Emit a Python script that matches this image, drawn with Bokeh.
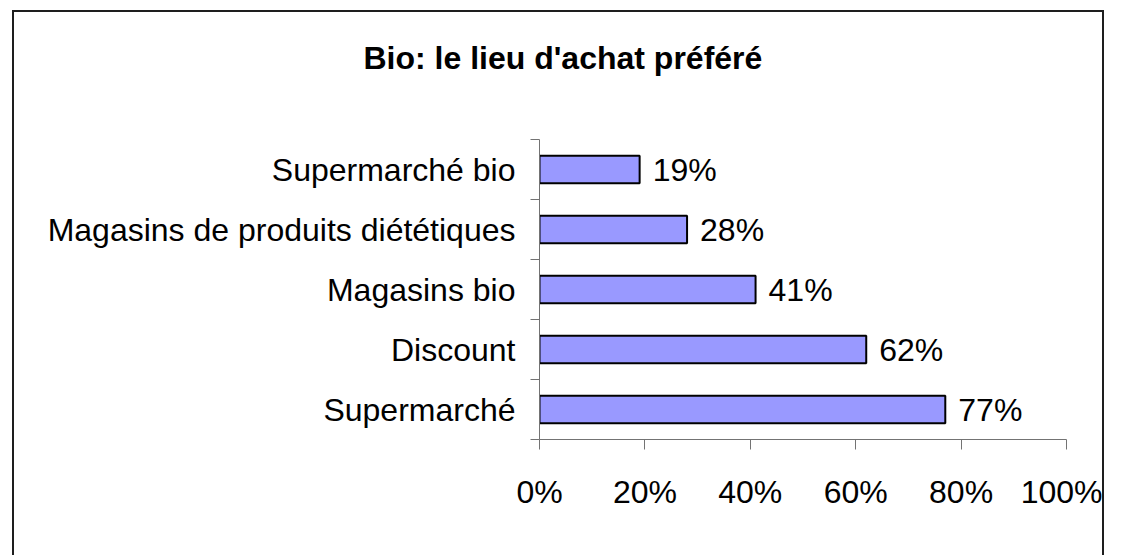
from bokeh.plotting import figure
from bokeh.models import Range1d, FixedTicker, ColumnDataSource, Title
from bokeh.core.properties import value
from bokeh.embed import file_html
from bokeh.resources import INLINE

# ---- data (top to bottom as shown) ----
categories = ["Supermarché bio", "Magasins de produits diététiques", "Magasins bio", "Discount", "Supermarché"]
values = [19, 28, 41, 62, 77]
x_ticks = [0, 20, 40, 60, 80, 100]
x_tick_labels = ["0%", "20%", "40%", "60%", "80%", "100%"]
title_text = "Bio: le lieu d'achat préféré"

FONT = "Liberation Sans"
FS = "32px"

n = len(categories)
ypos = [n - i - 0.5 for i in range(n)]
labels = [f"{v}%" for v in values]
src = ColumnDataSource(dict(y=ypos, v=values, lab=labels))

W, H = 1092, 545
ML, MR, MT, MB = 525, 40, 127, 118
p = figure(width=W, height=H, output_backend="svg", toolbar_location=None, title=None,
           x_range=Range1d(0, 100), y_range=Range1d(0, n),
           min_border_left=ML, min_border_right=MR, min_border_top=MT, min_border_bottom=MB)
p.styles = {"border-left": "2px solid #1e1e1e", "border-top": "2px solid #1e1e1e",
            "border-right": "2px solid #1e1e1e", "margin-left": "12px", "margin-top": "10px"}
p.outline_line_color = None
p.xgrid.visible = False
p.ygrid.visible = False
p.background_fill_color = "white"
p.border_fill_color = "white"

# spacer between frame and title, then the title itself
p.add_layout(Title(text=" ", text_font=FONT, text_font_size=FS, standoff=21), "above")
p.add_layout(Title(text=title_text, align="left", offset=-176, text_font=FONT,
                   text_font_size=FS, text_font_style="bold", text_color="black"), "above")

p.hbar(y="y", right="v", left=0, height=0.46, source=src,
       fill_color="#9999FF", line_color="black", line_width=2)
p.text(x="v", y="y", text="lab", source=src, x_offset=13,
       text_font=value(FONT), text_font_size=FS, text_baseline="middle", text_align="left",
       text_color="black")

AX = "#737373"
xa = p.xaxis[0]
xa.ticker = FixedTicker(ticks=x_ticks)
xa.major_label_overrides = {t: l for t, l in zip(x_ticks, x_tick_labels)}
xa.axis_line_color = AX
xa.major_tick_line_color = AX
xa.major_tick_in = 0
xa.major_tick_out = 10
xa.minor_tick_line_color = None
xa.major_label_standoff = 24
xa.major_label_text_font = FONT
xa.major_label_text_font_size = FS
xa.major_label_text_color = "black"

ya = p.yaxis[0]
ya.ticker = FixedTicker(ticks=ypos, minor_ticks=list(range(n + 1)))
ya.major_label_overrides = {y: c for y, c in zip(ypos, categories)}
ya.axis_line_color = AX
ya.major_tick_line_color = None
ya.major_tick_in = 0
ya.major_tick_out = 0
ya.minor_tick_line_color = AX
ya.minor_tick_in = 0
ya.minor_tick_out = 9
ya.major_label_standoff = 15
ya.major_label_text_font = FONT
ya.major_label_text_font_size = FS
ya.major_label_text_color = "black"

open("out.html", "w").write(file_html(p, INLINE))
